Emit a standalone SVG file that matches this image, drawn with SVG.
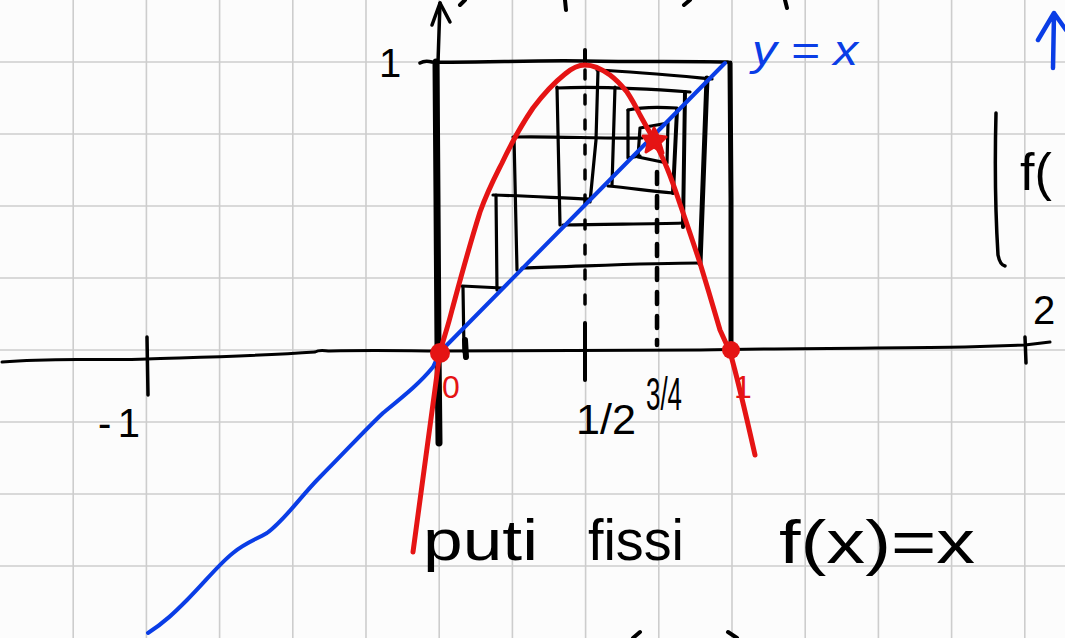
<svg xmlns="http://www.w3.org/2000/svg" width="1065" height="638" viewBox="0 0 1065 638">
<defs>
<style>
.grid{stroke:#cdcdcd;stroke-width:1.6;fill:none}
.ink{stroke:#000;fill:none;stroke-linecap:round;stroke-linejoin:round}
.red{stroke:#e51414;fill:none;stroke-linecap:round;stroke-linejoin:round}
.blue{stroke:#0a3de6;fill:none;stroke-linecap:round;stroke-linejoin:round}
.t{font-family:"Liberation Sans","DejaVu Sans",sans-serif;fill:#000}
.tr{font-family:"Liberation Sans","DejaVu Sans",sans-serif;fill:#e51414}
.tb{font-family:"Liberation Sans","DejaVu Sans",sans-serif;fill:#0a3de6;font-style:italic}
</style>
</defs>
<rect width="1065" height="638" fill="#fcfcfc"/>
<g id="grid" class="grid">
<path d="M73.2,0V638M146.4,0V638M219.6,0V638M292.8,0V638M366,0V638M439.2,0V638M512.4,0V638M585.6,0V638M658.8,0V638M732,0V638M805.2,0V638M878.4,0V638M951.6,0V638M1024.8,0V638"/>
<path d="M0,62H1065M0,134H1065M0,206H1065M0,278H1065M0,350H1065M0,422H1065M0,494H1065M0,566H1065"/>
</g>
<g id="axes" class="ink">
<path d="M2,362 C60,357 100,361 147,359 C210,357 260,356 315,352 C320,349 325,351 330,351 C380,350 410,351 440,351 L700,350 C800,348 900,348 965,347 L1025,345 L1050,342" stroke-width="3"/>
<path d="M147,337 L148,395" stroke-width="3.5"/>
<path d="M1025,337 L1026,363" stroke-width="3.5"/>
<path d="M440,3 L438,62" stroke-width="3.5"/>
<path d="M432,25 L440,3 L450,22" stroke-width="3.5"/>
<path d="M436,62 L437,200 L438,350 L439,443" stroke-width="7"/>
<path d="M585,323 L585,380" stroke-width="4"/>
<path d="M465,340 L466,357" stroke-width="6"/>
</g>
<g id="frame" class="ink">
<path d="M420,63 Q425,60 432,62 C480,63 530,60 585,61 C640,62 690,61 728,62" stroke-width="3.5"/>
<path d="M585,50 L585,63" stroke-width="4"/>
<path d="M730,63 L731,200 L731,348" stroke-width="5"/>
</g>
<g id="dotted" class="ink">
<path d="M585,70 L585,320" stroke-width="3.5" stroke-dasharray="9 16"/>
<path d="M657,172 L657,345" stroke-width="4.5" stroke-dasharray="12 12"/>
</g>
<g id="cobweb" class="ink" stroke-width="3.2">
<path d="M597,70 C640,72 680,76 712,79"/>
<path d="M598,70 L596,140 L590,202"/>
<path d="M493,195 C530,196 560,198 590,199"/>
<path d="M496,195 L497,290"/>
<path d="M462,286 L502,288"/>
<path d="M463,287 L464,352"/>
<path d="M707,78 L700,264" stroke-width="5"/>
<path d="M522,268 C590,266 650,263 700,263"/>
<path d="M514,137 L517,270"/>
<path d="M513,137 C560,136 600,139 642,138"/>
<path d="M557,87 L560,225"/>
<path d="M557,88 C600,86 650,89 690,92"/>
<path d="M563,225 C610,224 650,224 683,223"/>
<path d="M685,92 L683,227" stroke-width="4"/>
<path d="M615,87 L612,185"/>
<path d="M608,186 C630,188 650,191 673,193"/>
<path d="M677,110 L673,193" stroke-width="4"/>
<path d="M628,110 C645,106 662,107 677,108"/>
<path d="M628,110 L628,158 L640,156"/>
<path d="M640,128 L668,123 L667,163 L638,157 L640,128"/>
</g>
<g id="line-y-eq-x" class="blue">
<path d="M148,633 C165,622 175,612 187,600 C205,582 218,565 233,553 C245,543 255,540 267,533 C285,520 300,497 320,477 C345,452 365,430 383,413 C405,395 420,383 433,367 L440,352 L587,203 L725,63" stroke-width="4"/>
</g>
<g id="parabola" class="red">
<path d="M413,552 L440,352 C443,340 447,330 452,310 C458,288 468,250 480,212 C488,190 495,177 502,163 C510,146 520,127 533,108 C545,92 555,82 565,74 C572,68 578,65 585,65 C595,65 603,70 610,75 C618,81 622,86 627,92 C633,101 636,107 640,115 C646,126 649,131 653,138 C658,148 662,156 667,168 C672,180 676,192 680,204 C687,224 693,242 700,263 C707,286 713,306 720,330 L730,352 C738,380 746,415 755,455" stroke-width="5"/>
</g>
<g id="points">
<circle cx="440" cy="353" r="10" fill="#e51414"/>
<circle cx="731" cy="350" r="9" fill="#e51414"/>
<path d="M654,128 L658,136 L666,137 L660,143 L663,153 L654,147 L646,152 L648,143 L643,136 L651,136 Z" fill="#e51414" stroke="#e51414" stroke-width="3" stroke-linejoin="round"/>
</g>
<g id="labels">
<text class="t" x="379" y="77" font-size="40">1</text>
<text class="t" x="98" y="437" font-size="40" textLength="42">-1</text>
<text class="tr" x="442" y="398" font-size="32">0</text>
<text class="tr" x="734" y="398" font-size="32">1</text>
<text class="t" x="576" y="434" font-size="42" textLength="60" lengthAdjust="spacingAndGlyphs">1/2</text>
<text class="t" x="646" y="410" font-size="46" textLength="36" lengthAdjust="spacingAndGlyphs">3/4</text>
<text class="t" x="1033" y="324" font-size="40">2</text>
<text class="tb" x="752" y="65" font-size="42" textLength="106" lengthAdjust="spacingAndGlyphs">y = x</text>
<text class="t" x="423" y="560" font-size="58" textLength="115" lengthAdjust="spacingAndGlyphs">puti</text>
<text class="t" x="588" y="560" font-size="58" textLength="96" lengthAdjust="spacingAndGlyphs">fissi</text>
<text class="t" x="779" y="563" font-size="62" textLength="196" lengthAdjust="spacingAndGlyphs">f(x)=x</text>
<text class="t" x="1020" y="190" font-size="52">f(</text>
</g>
<g id="right-marks">
<path class="ink" d="M996,113 Q994,190 998,255 Q1000,265 1005,266" stroke-width="3.5"/>
<path class="blue" d="M1053,68 L1054,14 M1038,40 L1054,13 L1066,30" stroke-width="4.5"/>
</g>
<g id="edge-marks" class="ink" stroke-width="4">
<path d="M460,5 L465,0"/>
<path d="M565,0 L566,10"/>
<path d="M684,5 L690,0"/>
<path d="M785,0 L787,8"/>
<path d="M633,638 L640,632"/>
<path d="M728,632 L737,638"/>
</g>
</svg>
